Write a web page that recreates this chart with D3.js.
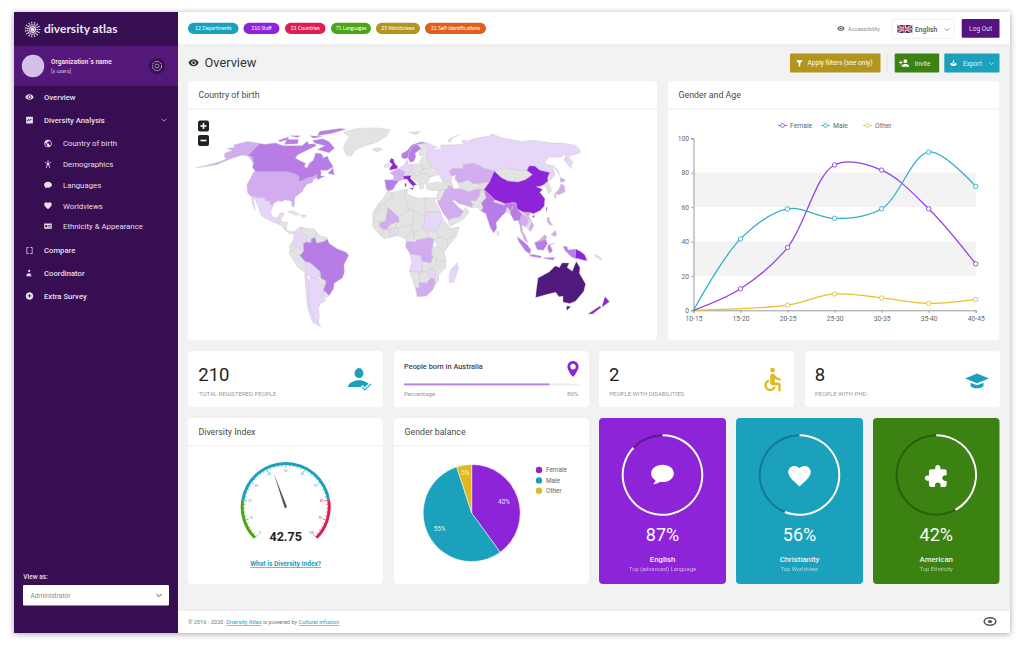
<!DOCTYPE html>
<html>
<head>
<meta charset="utf-8">
<title>Diversity Atlas</title>
<script src="https://cdn.jsdelivr.net/npm/d3@7"></script>
<style>
  html, body { margin: 0; padding: 0; background: #fff; overflow: hidden; }
  svg { display: block; }
  text { font-family: Roboto, sans-serif; }
</style>
</head>
<body>
<div id="page"></div>
<script>
//
// data
//
var ageGroups = ["10-15", "15-20", "20-25", "25-30", "30-35", "35-40", "40-45"];
var femaleByAge = [0, 12.5, 36.5, 84.5, 81.5, 59, 27];
var maleByAge = [0, 41.5, 59, 53.5, 59, 92, 72];
var otherByAge = [0, 1, 3, 9.5, 7.2, 4, 6.3];
var ageTicks = [0, 20, 40, 60, 80, 100];
var ageBands = [[20, 40], [60, 80]];

var genderLabels = ["Female", "Male", "Other"];
var genderShare = [40, 55, 5];

var chipLabels = ["12 Departments", "210 Staff", "21 Countries", "71 Languages", "25 Worldviews", "21 Self-identifications"];
var navTop = ["Overview", "Diversity Analysis"];
var navSub = ["Country of birth", "Demographics", "Languages", "Worldviews", "Ethnicity & Appearance"];
var navBottom = ["Compare", "Coordinator", "Extra Survey"];

var diversityIndex = 42.75;
var gaugeLabels = [0, 10, 20, 30, 40, 50, 60, 70, 80, 90, 100];

var topNames = ["English", "Christianity", "American"];
var topSubs = ["Top (advanced) Language", "Top Worldview", "Top Ethnicity"];
var topValues = [87, 56, 42];

// country outlines, rough, [lon, lat], one array per colour class
var mapGrey = [
  [[-62,79],[-50,83],[-25,83.5],[-10,81.5],[-12,76],[-22,70.5],[-32,68],[-40,65],[-43,60],[-48,61],[-53,66],[-54,70],[-52,75]],
  [[-24,65.5],[-18,66.4],[-14,65],[-19,63.4],[-22.5,64]],
  [[12,79],[25,80],[20,77]],
  [[-84.5,22],[-80,23],[-74.5,20.2],[-78,20]],
  [[-74,20],[-69,19.8],[-71,18]],
  [[-90,13.8],[-88.5,15.8],[-88.3,15.8],[-83.2,15],[-83.7,11],[-85.7,11],[-87.5,13]],
  [[-85.7,11],[-83.7,11],[-82.5,9.5],[-80,9.2],[-77.5,8.7],[-78,7.5],[-81,7.5],[-85,10]],
  [[-72,12],[-68,11],[-62,10.7],[-60,8.5],[-61,5],[-64,4],[-64,1.5],[-67.5,2],[-67.5,6],[-72,7.5]],
  [[-60,8.5],[-57,6],[-52,5],[-51.5,4],[-54,2.3],[-58,1.5],[-60,1.5],[-61,5]],
  [[-78.8,1.5],[-75.5,0],[-75.5,-1.5],[-78.5,-4.5],[-80.3,-3.4],[-81,-1],[-80,0.8]],
  [[-75.5,-1.5],[-75.5,0],[-73,-2.3],[-69.8,-4.2],[-73,-7],[-70.5,-9.5],[-69,-11],[-69,-16],[-70.3,-18.3],[-76,-14],[-81.3,-5],[-80.3,-3.4],[-78.5,-4.5]],
  [[-58,-20],[-58,-22],[-54.5,-24],[-54.5,-25.5],[-58,-27.3],[-60,-24],[-62.5,-22]],
  [[-57.5,-30],[-53.5,-33.7],[-55,-35],[-58.3,-34]],
  [[-5.8,35.8],[-2,35],[-1.5,32],[-8.7,27.5],[-12,26],[-12,23.4],[-17,21],[-13,27.7],[-9.7,30],[-6.8,34.5]],
  [[-2,35],[8.5,37],[9,30],[12,23.5],[3.3,19],[-1,21.5],[-5,25],[-8.7,27.5],[-1.5,32]],
  [[8.5,37],[11,37],[10,34],[15,32.3],[20,31],[25,31.6],[25,20],[24,19.5],[15,23],[12,23.5],[9,30]],
  [[25,31.6],[34,31.3],[32.5,29],[36.9,22],[25,22]],
  [[-17,21],[-12,23.4],[-12,26],[-8.7,27.5],[-5,25],[-6.5,16],[-11,15],[-16.5,16]],
  [[-16.5,16],[-11,15],[-11.5,12.5],[-8,10.5],[-8,7.5],[-11,7],[-13.3,9],[-16.8,12.5]],
  [[-8,10.5],[-5.5,10.5],[-3,9.5],[-3,5],[-7.5,4.3],[-11,7],[-8,7.5]],
  [[-5.5,10.5],[-3,13.7],[0.5,15],[2.4,11.5],[0,11],[-3,11],[-3,9.5]],
  [[0,11],[2.4,11.5],[3.7,11.5],[2.7,6.3],[1,6]],
  [[3.3,19],[12,23.5],[15,23],[15.5,17],[13.5,13.5],[3.7,11.5],[2.4,11.5],[0.5,15],[4,15.5]],
  [[2.7,6.3],[3.7,11.5],[13.5,13.5],[14.5,11],[11.5,6.5],[8.5,4.6],[5,5.5]],
  [[15,23],[24,19.5],[24,15.5],[22,11],[15.5,8],[14.5,11],[13.5,13.5],[15.5,17]],
  [[24,10],[27,9.5],[33.5,10],[35,5],[31,3.7],[27.5,5]],
  [[36,13],[38,18],[43,12],[48,8],[45,5],[41.5,4],[35,5],[33.5,10]],
  [[43,11],[51,12],[48,5],[41.5,-1.5],[41.5,4],[45,5],[48,8]],
  [[35,5],[41.5,4],[41.5,-1.5],[39,-4.6],[34,-1],[31,3.7]],
  [[15.5,8],[22,11],[24,10],[27.5,5],[19,3.5],[15,3.5]],
  [[8.5,4.6],[11.5,6.5],[14.5,11],[15.5,8],[15,3.5],[16,2],[9.8,2.3]],
  [[30,-1],[34,-1],[39,-4.6],[40.5,-10.5],[35,-11.5],[30.5,-8],[29,-6]],
  [[22,-13],[24,-11],[28.5,-12],[30.5,-8],[33,-9.5],[33,-14],[30.5,-16],[28,-16],[25.5,-18],[22,-18]],
  [[33,-14],[33,-9.5],[35,-11.5],[40.5,-10.5],[40.7,-15],[35,-20],[35.5,-24],[32.8,-26],[32,-22.5],[33,-18],[30.5,-16]],
  [[12,-17.5],[22,-18],[20,-18.5],[20,-28.5],[17,-28.7],[14.5,-23]],
  [[20,-18.5],[22,-18],[25.5,-18],[29,-22.3],[25.5,-25.5],[20,-25]],
  [[-10,52],[-6,52.2],[-6,55],[-10,54.3]],
  [[7.6,47.6],[12,48.5],[17,48.5],[16,46.8],[13.7,46.5],[7,46]],
  [[14,54],[19,54.5],[23.5,54],[24,50.5],[22.5,49],[19,49.3],[15,51]],
  [[12,48.5],[15,51],[19,49.3],[22.5,49],[22,47.5],[19,46],[16,46.8],[17,48.5]],
  [[13.7,46.5],[16,46.8],[19,46],[22,47.5],[27,48],[29.5,45],[28,41.5],[26,40.8],[23.5,40],[24,37.8],[21.5,37],[19.5,41],[15,44.5]],
  [[22.5,49],[24,50.5],[32,52.3],[40,49.6],[38,47],[33,46],[29.5,45],[27,48],[22,47.5]],
  [[23.5,54],[21,55],[24,59],[28,59.5],[32,52.3],[24,50.5]],
  [[24,65.8],[22,63],[22,60.2],[28,60.5],[31,63],[29,70],[20,69]],
  [[8.2,55],[10.5,57.5],[11,55]],
  [[53,42],[56,41.5],[62,43.5],[66,41],[70,41],[73,39.5],[67,37],[61,35.5],[54,37.5]],
  [[70,41],[80,42],[74,37],[67,37],[73,39.5]],
  [[87,49.5],[98,52],[108,50],[116,50],[119,47],[111,43.5],[104,42],[96,42.7],[91,45]],
  [[124.5,40],[130,42.7],[129.5,36],[126.5,34.5],[126,38]],
  [[74,37],[74.5,31.5],[70,28],[71,25],[69,22.5],[66.5,25.2],[61.7,25],[63,27],[61,29.7],[66,29.5],[69.5,33],[71,36.5]],
  [[26,40],[29,41.2],[36,42],[41.5,41.5],[44.5,39.5],[44.5,37.5],[42,37],[36,36.5],[30,36.3],[27,37]],
  [[40,43.5],[47.5,42],[49,40],[48,39],[44.5,39.5],[41.5,41.5]],
  [[36,36.5],[42,37],[39,32.5],[37,29.5],[35,29.5],[34.3,31.3]],
  [[42.8,16.5],[44,17.5],[52,19],[55,22.7],[56.5,25],[59.8,22.5],[55,17.5],[45,12.8],[43.3,12.8]],
  [[88.5,22],[90,25.5],[92,23],[92,21]],
  [[101,21],[102,22],[104,20],[107,16],[105,14.5],[105,18]],
  [[102.5,12],[105,14.5],[107,14],[105,10.5]],
  [[81,30.3],[89,27.5],[88,26.5],[80,28.7]],
  [[155,-6],[160,-8],[162,-10.5],[157,-8]]
];
var mapTier1 = [
  [[-117.1,32.5],[-114.8,32.5],[-111,31.3],[-106.5,31.8],[-103,29],[-101.5,29.8],[-99.5,27.5],[-97.2,25.9],[-97.8,22.5],[-96,19],[-94,18.2],[-91,18.7],[-90.5,21],[-87,21.5],[-88,18.5],[-89,17.8],[-91,17.2],[-92,14.6],[-96,15.8],[-102,18],[-105.5,20.5],[-108,25],[-112.5,30]],
  [[-115,31.5],[-110,23],[-112,25],[-116,30.5]],
  [[-92,14.6],[-91,17.2],[-89,17.8],[-88.5,15.8],[-90,13.8]],
  [[-77.5,8.7],[-75,11],[-72,12],[-72,7.5],[-67.5,6],[-67.5,2],[-70,1],[-69.8,-4.2],[-73,-2.3],[-75.5,0],[-78.8,1.5],[-77.5,4]],
  [[-69,-11],[-65,-12],[-60,-16],[-58,-18],[-58,-20],[-62.5,-22],[-66,-22],[-69,-19],[-69,-16]],
  [[-70.3,-18.3],[-69,-19],[-68,-24],[-70,-33],[-71.5,-40],[-72,-50],[-69,-52],[-68.5,-55],[-74,-52],[-74,-42],[-71.5,-30]],
  [[-66,-22],[-62.5,-22],[-60,-24],[-58,-27.3],[-54.5,-25.5],[-57.5,-30],[-58.3,-34],[-57,-37],[-62,-39],[-65,-42],[-66,-47],[-69,-52],[-72,-50],[-71.5,-40],[-70,-33],[-68,-24]],
  [[-3,11],[0,11],[1,6],[-3,5],[-3,9.5]],
  [[24,19.5],[25,20],[25,22],[36.9,22],[38,18],[36,13],[33.5,10],[27,9.5],[24,10],[22,11],[24,15.5]],
  [[12.5,-6],[21,-7],[22,-11],[24,-11],[22,-13],[22,-18],[12,-17.5],[14,-11]],
  [[25.5,-18],[28,-16],[30.5,-16],[33,-18],[32,-22.5],[29,-22.3]],
  [[49.3,-12],[50.5,-15.5],[47.5,-25],[44,-25],[43.5,-21],[44.5,-16.5]],
  [[2.5,51],[4,52],[7,53.5],[9,54.8],[14,54],[15,51],[12,48.5],[7.6,47.6],[8.2,49]],
  [[28,59.5],[30,60],[28,60.5],[31,63],[29,70],[33,69.3],[41,66.5],[34,66],[40,64.6],[44,66],[44,68.5],[54,68.5],[68,69],[67,72],[73,72],[74,68],[75,72],[81,73.5],[100,76],[104,77.7],[113,74],[130,71],[140,72.5],[160,70],[170,70],[180,68.5],[180,65],[177,62.5],[163,60],[162,56],[156,51],[155.5,57],[163,62],[155,59.5],[143,59.3],[135,54.7],[141,53],[139,47],[132,43],[131,45],[135,48.4],[127.5,50],[125,53],[120,53],[116,50],[108,50],[98,52],[87,49.5],[80,51],[71,55],[61,54],[60,51],[51,51.5],[47,49],[49,46],[47.5,42],[40,43.5],[38,47],[40,49.6],[32,52.3]],
  [[142,54],[143.5,50],[142.5,46],[142,50]],
  [[52,71],[56,74],[68,77],[58,74],[55,71]],
  [[80,9.7],[82,7.5],[80.5,6]]
];
var mapTier2 = [
  [[-124.7,48.4],[-123,49],[-95,49],[-89.5,48],[-84.5,46.5],[-82.5,45.3],[-82.5,42.5],[-79,43],[-76.5,44],[-75,45],[-71.5,45],[-69,47.3],[-67,45],[-70,43.5],[-70,41.6],[-74,40.6],[-75.5,38],[-76,35.5],[-78.5,33.8],[-81,31.8],[-80,26.8],[-80.5,25.2],[-81.8,26],[-83,29],[-85,29.7],[-89,30.2],[-90,29.1],[-94,29.5],[-97.2,27.5],[-97.2,25.9],[-99.5,27.5],[-101.5,29.8],[-103,29],[-106.5,31.8],[-111,31.3],[-114.8,32.5],[-117.1,32.5],[-120.5,34.5],[-122.5,37.5],[-124.3,40.3],[-124,46]],
  [[-141,69.6],[-141,60.3],[-135,59.5],[-130,55],[-133,56.5],[-139,59.8],[-146,60.8],[-152,59],[-157,57],[-163,54.8],[-158,58.5],[-162,59.5],[-165,62],[-161,64.5],[-168,65.6],[-162,67],[-166,68.5],[-156.5,71.3],[-148,70.4]],
  [[-156,57.5],[-178,51.6],[-162,54]],
  [[-5,25],[3.3,19],[4,15.5],[0.5,15],[-3,13.7],[-5.5,10.5],[-8,10.5],[-11.5,12.5],[-11,15],[-6.5,16]],
  [[9.8,2.3],[16,2],[18,3.5],[16,-3],[12,-5],[9,-1]],
  [[19,3.5],[27.5,5],[31,3.7],[30,-1],[29,-6],[30.5,-8],[28.5,-12],[24,-11],[22,-11],[21,-7],[12.5,-6],[12,-5],[16,-3],[18,3.5]],
  [[17,-28.7],[20,-28.5],[20,-25],[25.5,-25.5],[29,-22.3],[32,-22.5],[32.8,-26],[31,-30],[26,-34],[18.5,-34.5]],
  [[-1.5,43.4],[3,42.5],[7.5,43.8],[7,46],[7.6,47.6],[8.2,49],[2.5,51],[-1.5,49.7],[-4.8,48.4],[-1.2,46]],
  [[47,49],[51,51.5],[60,51],[61,54],[71,55],[80,51],[87,49.5],[80,42],[70,41],[66,41],[62,43.5],[56,41.5],[53,42],[51,44.5],[53,46.7],[49,46]],
  [[61,35.5],[67,37],[74,37],[71,36.5],[69.5,33],[66,29.5],[61,29.7],[61,31.5]],
  [[44.5,39.5],[48,39],[49,37.5],[54,37.5],[61,35.5],[61,31.5],[61,29.7],[63,27],[61.7,25],[57,26.5],[52,27.5],[48.5,30],[46,33],[44.5,37.5]],
  [[39,32.5],[42,37],[44.5,37.5],[46,33],[48.5,30],[47,29],[44,29.3]],
  [[35,29.5],[37,29.5],[39,32.5],[44,29.3],[47,29],[48.5,28],[51.5,25],[55,22.7],[52,19],[44,17.5],[42.8,16.5],[39,21],[35,28]],
  [[131,34],[136,37],[140,41],[142,39.5],[140.5,35.5],[135,33.7]],
  [[140,42],[142,45.3],[145,43.5],[143,42]],
  [[130,33.5],[132,33],[130.8,31]],
  [[98.5,16],[101,21],[105,18],[105,14.5],[102.5,12],[100,13.5],[100,9],[102,6],[100,6.5],[98.5,9]],
  [[102,22],[108,21.7],[106,19],[109.3,13],[106,8.8],[105,10.5],[107,14],[107,16],[104,20]],
  [[100,6.5],[102,6],[104,1.5],[101,3]],
  [[109,1.5],[113,3.5],[117,7],[119,5],[117.5,4],[115,3]],
  [[120.5,18.5],[122,18.3],[122,16],[124,13],[121,13.8],[120,16]],
  [[122,7],[125.5,9.7],[126.5,7],[125,5.7]]
];
var mapTier3 = [
  [[-141,69.6],[-135,69],[-125,70],[-115,68],[-108,68],[-96,68],[-94,71.5],[-90,69],[-85,69.5],[-81.5,68],[-87,65],[-94,61],[-94.5,58.7],[-88,56.5],[-82.5,55],[-82,52.5],[-79,51.5],[-79,55],[-76.5,57],[-78,62.4],[-73,62],[-70,60.5],[-69,58.8],[-65,60],[-62,57],[-56,52.5],[-60,50],[-66.5,50],[-65,48.5],[-64.5,46],[-61,46],[-66,43.5],[-67,45],[-69,47.3],[-71.5,45],[-75,45],[-76.5,44],[-79,43],[-82.5,42.5],[-82.5,45.3],[-84.5,46.5],[-89.5,48],[-95,49],[-123,49],[-128,52],[-130,55],[-135,59.5],[-141,60.3]],
  [[-80,73.5],[-72,71.5],[-67,69],[-62,66],[-65,62.5],[-72,63.8],[-78,65],[-73,68],[-85,70],[-89,72]],
  [[-117,73],[-105,73],[-102,69.5],[-115,69]],
  [[-90,80],[-70,83],[-62,82],[-75,78],[-88,76]],
  [[-125,72],[-118,75],[-116,73],[-122,71]],
  [[-96,76],[-82,75.5],[-90,74]],
  [[-118,76],[-106,76],[-108,74.5]],
  [[-59,47.8],[-56,51.5],[-53,47]],
  [[-51.5,4],[-50,1],[-44,-2.5],[-37,-4.8],[-35,-7],[-39,-13],[-39,-18],[-41,-22],[-48,-25.5],[-49,-29],[-53.5,-33.7],[-57.5,-30],[-54.5,-25.5],[-54.5,-24],[-58,-22],[-58,-18],[-60,-16],[-65,-12],[-69,-11],[-70.5,-9.5],[-73,-7],[-69.8,-4.2],[-70,1],[-67.5,2],[-64,1.5],[-64,4],[-61,5],[-60,1.5],[-58,1.5],[-54,2.3]],
  [[-9,43.5],[-1.5,43.4],[3,42.5],[0,39.5],[-0.5,38],[-2,36.8],[-5.5,36],[-7,37.2]],
  [[5,59],[8,58],[11,59],[12,63],[15,66.5],[20,69],[29,70],[31,69.7],[25,71],[15,68.5],[10,64],[5,62]],
  [[11,59],[13,55.5],[16.5,56.5],[18.5,60],[17.5,62],[24,65.8],[20,69],[15,66.5],[12,63]],
  [[74,37],[78.5,33],[81,30.3],[80,28.7],[88,26.5],[89,27.5],[96,28.5],[94,24],[92,23],[90,25.5],[88.5,22],[85,19.5],[80,15],[80,11],[77.5,8],[75,12],[73,19],[72.5,21],[69,22.5],[71,25],[70,28],[74.5,31.5]],
  [[92,23],[94,24],[96,28.5],[98,28],[98,24],[101,21],[98.5,16],[99,11],[97.5,16.5],[94.3,16],[92,20.5]],
  [[109,1.5],[115,3],[117.5,4],[119,1],[116,-3.5],[111,-3],[110,-1]],
  [[95.5,5.5],[98,4],[103.5,0],[106,-3],[105.7,-6],[102,-4],[97,2]],
  [[105.5,-6.5],[108.5,-6.4],[114.5,-7.5],[114,-8.7],[106,-7.5]],
  [[119.5,0],[125,1.5],[121,0],[123,-4],[120.5,-5.5],[119,-2]],
  [[116,-8.5],[125,-8.3],[124,-10],[117,-9]],
  [[131,-1],[134,-0.8],[135,-3.3],[141,-2.6],[141,-9],[138,-8],[133,-4]]
];
var mapTier4 = [
  [[-5.5,50],[1.5,51.2],[1.7,52.8],[-0.2,54],[-2,56],[-2,57.6],[-5,58.6],[-6,56],[-3,54],[-5,52]],
  [[7,46],[7.5,43.8],[10,44],[12.5,41.6],[16,38.5],[16,40],[18.5,40],[13,44.5],[13.7,46.5]],
  [[12.5,38],[15.5,38.2],[15,36.7]],
  [[8.3,41],[9.7,41],[9.5,39],[8.5,39]],
  [[80,42],[87,49.5],[91,45],[96,42.7],[104,42],[111,43.5],[119,47],[116,50],[120,53],[125,53],[127.5,50],[135,48.4],[131,45],[130,42.7],[124.5,40],[121,39],[118,39],[122.5,37],[119.5,35],[122,31],[120,26],[116,23],[110,20.8],[108,21.7],[102,22],[98,24],[98,28],[96,28.5],[89,27.5],[81,30.3],[78.5,33],[74,37]],
  [[108.7,19],[111,20],[110,18.3]],
  [[121,25],[122,25],[120.8,22]],
  [[141,-2.6],[145,-4.5],[148,-6.5],[150.5,-10.5],[147,-10],[143,-9],[141,-9]],
  [[172.7,-34.5],[178.5,-37.7],[175,-41.5],[174,-39.5]],
  [[172.5,-40.6],[174.3,-41.7],[170.5,-46],[166.5,-46],[171,-42]]
];
var mapTier5 = [
  [[114,-22],[122,-18],[126,-14],[129.5,-15],[131,-12],[136.5,-12],[135.5,-15],[140,-17.5],[142,-11],[145.5,-15],[146,-19],[153,-26],[153.5,-31],[150,-37.5],[146,-39],[140,-38],[138,-34],[135,-34.5],[131,-31.5],[124,-33],[116,-35],[115,-31]],
  [[144.7,-40.7],[148.3,-41],[146.8,-43.6],[145.5,-42.5]]
];

//
// setup
//
var purple = "#8e24d8", teal = "#1ba1bc", green = "#3c8213", gold = "#b2951f", yellow = "#e0b91e", red = "#dc1f50";
var darkSide = "#380e52", midSide = "#54187a";

var svg = d3.select("#page").append("svg").attr("width", 1024).attr("height", 645);
var defs = svg.append("defs");
var shadow = defs.append("filter").attr("id", "frame").attr("x", "-5%").attr("y", "-5%").attr("width", "110%").attr("height", "110%");
shadow.append("feDropShadow").attr("dx", 0).attr("dy", 1).attr("stdDeviation", 3).attr("flood-opacity", 0.35);
var cardShadow = defs.append("filter").attr("id", "soft").attr("x", "-5%").attr("y", "-5%").attr("width", "110%").attr("height", "110%");
cardShadow.append("feDropShadow").attr("dx", 0).attr("dy", 0).attr("stdDeviation", 0.7).attr("flood-opacity", 0.13);

function box(x, y, w, h, fill, r, parent) {
  return (parent || svg).append("rect").attr("x", x).attr("y", y).attr("width", w).attr("height", h)
    .attr("rx", r || 0).attr("fill", fill);
}
function label(x, y, s, size, fill, weight, anchor, family) {
  return svg.append("text").attr("x", x).attr("y", y).text(s)
    .attr("font-size", size).attr("fill", fill)
    .attr("font-weight", weight || 400).attr("text-anchor", anchor || "start")
    .style("font-family", family || "Roboto, sans-serif");
}
function card(x, y, w, h) {
  return box(x, y, w, h, "#fff", 4).attr("filter", "url(#soft)");
}
function cardHeader(x, w, y, title) {
  label(x + 10.5, y - 10.8, title, 8.8, "#4a4a4a", 400);
  svg.append("line").attr("x1", x).attr("x2", x + w).attr("y1", y).attr("y2", y).attr("stroke", "#ececec").attr("stroke-width", 1);
}
// material style glyph, 24 unit box, centred on x,y
function icon(d, x, y, size, fill, mirror) {
  var k = size / 24;
  var t = mirror
    ? "translate(" + (x + size / 2) + "," + (y - size / 2) + ") scale(" + (-k) + "," + k + ")"
    : "translate(" + (x - size / 2) + "," + (y - size / 2) + ") scale(" + k + ")";
  return svg.append("path").attr("d", d).attr("fill", fill).attr("transform", t);
}
function chevron(x, y, w, color, sw) {
  svg.append("path").attr("d", d3.line()([[x - w, y - w / 2], [x, y + w / 2], [x + w, y - w / 2]]))
    .attr("fill", "none").attr("stroke", color).attr("stroke-width", sw || 1);
}

var EYE = "M12 4.5C7 4.5 2.73 7.61 1 12c1.73 4.39 6 7.5 11 7.5s9.27-3.11 11-7.5c-1.73-4.39-6-7.5-11-7.5zM12 17c-2.76 0-5-2.24-5-5s2.24-5 5-5 5 2.24 5 5-2.24 5-5 5zm0-8c-1.66 0-3 1.34-3 3s1.34 3 3 3 3-1.34 3-3-1.34-3-3-3z";
var HEART = "M12 21.35l-1.45-1.32C5.4 15.36 2 12.28 2 8.5 2 5.42 4.42 3 7.5 3c1.74 0 3.41.81 4.5 2.09C13.09 3.81 14.76 3 16.5 3 19.58 3 22 5.42 22 8.5c0 3.78-3.4 6.86-8.55 11.54L12 21.35z";
var PUZZLE = "M20.5 11H19V7c0-1.1-.9-2-2-2h-4V3.5C13 2.12 11.88 1 10.5 1S8 2.12 8 3.5V5H4c-1.1 0-1.99.9-1.99 2v3.8H3.5c1.49 0 2.7 1.21 2.7 2.7s-1.21 2.7-2.7 2.7H2V20c0 1.1.9 2 2 2h3.8v-1.5c0-1.49 1.21-2.7 2.7-2.7 1.49 0 2.7 1.21 2.7 2.7V22H17c1.1 0 2-.9 2-2v-4h1.5c1.38 0 2.5-1.12 2.5-2.5S21.88 11 20.5 11z";
var WHEEL = "M12 2a2 2 0 1 0 0 4 2 2 0 0 0 0-4zM19 13v-2c-1.54.02-3.09-.75-4.07-1.83l-1.29-1.43c-.17-.19-.38-.34-.61-.45-.01 0-.01-.01-.02-.01H13c-.35-.2-.75-.3-1.19-.26C10.76 7.11 10 8.04 10 9.09V15c0 1.1.9 2 2 2h5v5h2v-5.5c0-1.1-.9-2-2-2h-3v-3.45c1.29 1.07 3.25 1.94 5 1.95zm-6.17 5c-.41 1.16-1.52 2-2.83 2-1.66 0-3-1.34-3-3 0-1.31.84-2.41 2-2.83V12.1c-2.28.46-4 2.48-4 4.9 0 2.76 2.24 5 5 5 2.42 0 4.44-1.72 4.9-4h-2.07z";
var CAP = "M12 6L1 10.500 12 15l11-4.500zM6 14.500v3.200c2 1.500 4 2 6 2s4-.5 6-2v-3.200l-6 2.400z";
var PIN = "M12 2C8.13 2 5 5.13 5 9c0 5.25 7 13 7 13s7-7.75 7-13c0-3.87-3.13-7-7-7zm0 10.500c-1.930 0-3.500-1.570-3.500-3.500s1.570-3.500 3.500-3.500 3.500 1.570 3.500 3.500-1.570 3.500-3.500 3.500z";
var PERSON = "M12 12c2.21 0 4-1.79 4-4s-1.790-5-4-5-4 2.790-4 5 1.790 4 4 4zm0 2c-2.670 0-9 1.340-10 6h20c-1-4.660-7.330-6-10-6z";
var PERSON_ADD = "M15 12c2.21 0 4-1.79 4-4s-1.79-4-4-4-4 1.79-4 4 1.79 4 4 4zm-9-2V7H4v3H1v2h3v3h2v-3h3v-2H6zm9 4c-2.67 0-8 1.34-8 4v2h16v-2c0-2.66-5.33-4-8-4z";
var CHECK = "M9 16.17L4.83 12l-1.41 1.41L9 19 21 7l-1.41-1.41z";
var GLOBE = "M12 2C6.48 2 2 6.48 2 12s4.48 10 10 10 10-4.48 10-10S17.52 2 12 2zm-1 17.93c-3.95-.49-7-3.85-7-7.93 0-.62.08-1.21.21-1.79L9 15v1c0 1.1.9 2 2 2v1.93zm6.9-2.54c-.26-.81-1-1.39-1.9-1.39h-1v-3c0-.55-.45-1-1-1H8v-2h2c.55 0 1-.45 1-1V7h2c1.1 0 2-.9 2-2v-.41c2.93 1.19 5 4.06 5 7.41 0 2.08-.8 3.97-2.1 5.39z";
var PLUS_CIRCLE = "M12 2C6.48 2 2 6.48 2 12s4.48 10 10 10 10-4.48 10-10S17.52 2 12 2zm5 11h-4v4h-2v-4H7v-2h4V7h2v4h4v2z";
var FILTER = "M3 4h18l-7 8.5V20l-4 1v-8.5z";
var CHAT = "M12 3C6 3 1.5 6.6 1.5 11c0 2.6 1.6 4.9 4 6.4-.3 1.5-1.2 2.8-2.4 3.6 2.4.1 4.8-.7 6.6-2.2.8.1 1.5.2 2.3.2 6 0 10.5-3.6 10.5-8S18 3 12 3z";
var ID_CARD = "M2 5h20v14H2zM5 9v6h5V9zM13 9v1.6h6V9zM13 13v1.6h6V13z";
var CHART_BOX = "M3 3h18v18H3zM5.5 16l4-4 3 2.5 5-5.5-1.5-1-3.6 4-3-2.5-5 5z";
var DEMO = "M12 2a2 2 0 1 1 0 4 2 2 0 0 1 0-4zM4 6.5l6 1.5h4l6-1.5.5 1.8-5.5 1.7v4l3 7.5-1.9.6L13 15h-2l-3.1 7.5-1.9-.6 3-7.5v-4L3.5 8.3z";
var COORD = "M11 3a3 3 0 1 1 0 6 3 3 0 0 1 0-6zM4 20v-3c0-3 4-5 7-5 2 0 4 .8 5.500 2L14 17l6 3z";
var BRACKET = "M4 3h6v2H6v14h4v2H4zM14 3h6v18h-6v-2h4V5h-4z";
var EXPORT = "M11 3h2v6h3l-4 4-4-4h3zM3 14c1.500-1.500 3-2 5-2l4 4 4-4c2 0 3.500.5 5 2-1 4-5 6-9 6s-8-2-9-6z";

//
// frame
//
svg.append("rect").attr("x", 14).attr("y", 12).attr("width", 996).attr("height", 621).attr("fill", "#f2f2f2").attr("filter", "url(#frame)");
box(178, 12, 832, 33, "#fff");
box(178, 610, 832, 23, "#fff");
svg.append("line").attr("x1", 178).attr("x2", 1010).attr("y1", 45).attr("y2", 45).attr("stroke", "#e6e6e6");
svg.append("line").attr("x1", 178).attr("x2", 1010).attr("y1", 610).attr("y2", 610).attr("stroke", "#e6e6e6");

//
// sidebar
//
box(14, 12, 164, 621, darkSide);
box(14, 46, 164, 40, midSide);

// logo, a round tree of white strokes
var logoAngles = d3.range(0, 360, 24);
svg.append("g").selectAll("line").data(logoAngles).enter().append("line")
  .attr("x1", 32.5).attr("y1", 29.5)
  .attr("x2", function(a) { return 32.5 + 7.8 * Math.cos(a * Math.PI / 180); })
  .attr("y2", function(a) { return 29.5 + 7.8 * Math.sin(a * Math.PI / 180); })
  .attr("stroke", "#e9e4ee").attr("stroke-width", 1.2).attr("stroke-dasharray", "1.6 0.5");
label(44, 33.2, "diversity atlas", 12, "#ece7f1", 700, "start", "Lato, sans-serif");

svg.append("circle").attr("cx", 33).attr("cy", 66).attr("r", 11.2).attr("fill", "#d3c1ea");
label(51, 64, "Organization\u00b4s name", 6.5, "#e8dff0", 700);
label(51, 72.5, "[x users]", 5.4, "#cdbcdc", 400);
svg.append("circle").attr("cx", 157).attr("cy", 66).attr("r", 8).attr("fill", darkSide);
svg.append("circle").attr("cx", 157).attr("cy", 66).attr("r", 4.6).attr("fill", "none").attr("stroke", "#cfc3d8").attr("stroke-width", 0.9).attr("stroke-dasharray", "2 0.7");
svg.append("circle").attr("cx", 157).attr("cy", 66).attr("r", 2).attr("fill", "none").attr("stroke", "#cfc3d8").attr("stroke-width", 0.7);

var navColor = "#e6dfec";
label(44, 99.7, navTop[0], 7.7, navColor, 500);
icon(EYE, 29.5, 97, 9, navColor);
label(44, 122.7, navTop[1], 7.7, navColor, 500);
icon(CHART_BOX, 29.5, 120, 9, navColor);
chevron(164, 120, 2.5, "#cfc3d8", 0.8);

var subY = [146.3, 167, 187.8, 208.5, 229];
var subIcons = [GLOBE, DEMO, CHAT, HEART, ID_CARD];
navSub.forEach(function(s, i) {
  label(63, subY[i], s, 7.8, navColor, 400);
  icon(subIcons[i], 48, subY[i] - 2.8, 9, navColor);
});
var bottomY = [253.3, 276, 298.7];
var bottomIcons = [BRACKET, COORD, PLUS_CIRCLE];
navBottom.forEach(function(s, i) {
  label(44, bottomY[i], s, 7.7, navColor, 500);
  icon(bottomIcons[i], 29.5, bottomY[i] - 2.8, 9, navColor);
});

label(23.3, 578.5, "View as:", 6.6, "#e6dfec", 500);
box(23, 585, 146, 20.5, "#fff", 1);
label(30.5, 597.7, "Administrator", 6.6, "#8a8a8a", 400);
chevron(159, 595.3, 2.6, "#444", 1);

//
// top bar
//
var chipX = [188, 243.5, 285, 331, 376, 425];
var chipW = [50.5, 36, 40.5, 40, 44, 61];
var chipColors = [teal, purple, red, "#4aa517", gold, "#df5f1e"];
chipLabels.forEach(function(s, i) {
  box(chipX[i], 22.8, chipW[i], 11.2, chipColors[i], 5.6);
  label(chipX[i] + chipW[i] / 2, 30.2, s, 5.1, "#fff", 400, "middle", "Lato, sans-serif");
});

icon(EYE, 841, 28.5, 8, "#666");
label(848, 30.7, "Accessibility", 5.7, "#8c8c8c", 400);
box(892, 19.5, 62, 19, "#fff", 1).attr("stroke", "#eaeaea").attr("stroke-width", 0.7);
// flag
box(897.3, 25, 15, 8, "#243a78");
[[897.3, 25, 912.3, 33], [897.3, 33, 912.3, 25]].forEach(function(p) {
  svg.append("line").attr("x1", p[0]).attr("y1", p[1]).attr("x2", p[2]).attr("y2", p[3]).attr("stroke", "#fff").attr("stroke-width", 1.3);
  svg.append("line").attr("x1", p[0]).attr("y1", p[1]).attr("x2", p[2]).attr("y2", p[3]).attr("stroke", "#c8263e").attr("stroke-width", 0.5);
});
box(903.6, 25, 2.4, 8, "#fff"); box(897.3, 27.8, 15, 2.4, "#fff");
box(904.2, 25, 1.2, 8, "#c8263e"); box(897.3, 28.4, 15, 1.2, "#c8263e");
label(915, 31.6, "English", 6.8, "#555", 500);
chevron(947, 29.5, 2.2, "#777", 0.8);
box(961.7, 19, 37.8, 18.7, "#54137f", 1);
label(980.6, 30.8, "Log Out", 6.6, "#e4d9ee", 400, "middle");

//
// page title and buttons
//
icon(EYE, 193.6, 62.7, 11, "#333");
label(204.5, 66.7, "Overview", 12.8, "#333", 400);

box(790, 53.5, 90.5, 19, gold, 1);
icon(FILTER, 799.5, 63.3, 9, "#fff");
label(807.5, 65.4, "Apply filters (see only)", 6.6, "#fff", 400);
svg.append("line").attr("x1", 887).attr("x2", 887).attr("y1", 53).attr("y2", 72).attr("stroke", "#e5e5e5");
box(894.7, 53.5, 44.5, 19, green, 1);
icon(PERSON_ADD, 904, 63, 11, "#fff");
label(914.7, 65.6, "Invite", 6.5, "#e8f2e0", 400);
box(944.3, 53.5, 55.2, 19, teal, 1);
icon(EXPORT, 953.5, 63, 9, "#fff");
label(963, 65.6, "Export", 6.5, "#e2f3f7", 400);
chevron(991.5, 63.5, 2.2, "#e2f3f7", 0.7);

//
// country of birth map
//
card(188, 81, 469, 259);
cardHeader(188, 469, 109, "Country of birth");

// natural earth raw so nothing wraps at the antimeridian
var mapX = d3.scaleLinear().domain([0, 1]).range([408, 493]);
var mapY = d3.scaleLinear().domain([0, 1]).range([245, 160]);
function project(p) {
  var r = d3.geoNaturalEarth1Raw((p[0] - 11) * Math.PI / 180, p[1] * Math.PI / 180);
  return [mapX(r[0]), mapY(r[1])];
}
var ringPath = d3.line()
  .x(function(p) { return project(p)[0]; })
  .y(function(p) { return project(p)[1]; })
  .curve(d3.curveLinearClosed);

var mapClasses = [
  { rings: mapGrey, color: "#e3e3e3" },
  { rings: mapTier1, color: "#e6d6f7" },
  { rings: mapTier2, color: "#d2acef" },
  { rings: mapTier3, color: "#b87ce6" },
  { rings: mapTier4, color: purple },
  { rings: mapTier5, color: "#52197f" }
];
var mapG = svg.append("g");
mapClasses.forEach(function(c) {
  mapG.append("g").selectAll("path").data(c.rings).enter().append("path")
    .attr("d", ringPath)
    .attr("fill", c.color)
    .attr("stroke", "#c4c0c8").attr("stroke-width", 0.35);
});

box(198, 120.5, 11, 11, "#222", 2);
box(198, 135, 11, 11, "#222", 2);
box(200.5, 125.2, 6, 1.6, "#fff"); box(202.7, 123, 1.6, 6, "#fff");
box(200.5, 139.7, 6, 1.6, "#fff");

//
// gender and age
//
card(668, 81, 331.5, 259);
cardHeader(668, 331.5, 109, "Gender and Age");

var x = d3.scalePoint().domain(ageGroups).range([693.5, 975.7]);
var y = d3.scaleLinear().domain([0, 100]).range([310.3, 138.3]);

svg.append("g").selectAll("rect").data(ageBands).enter().append("rect")
  .attr("x", 693.5).attr("width", 282.2)
  .attr("y", function(d) { return y(d[1]); })
  .attr("height", function(d) { return y(d[0]) - y(d[1]); })
  .attr("fill", "#f3f3f3");

var yAxis = svg.append("g").attr("transform", "translate(693.5,0)")
  .call(d3.axisLeft(y).tickValues(ageTicks).tickSize(2.5).tickPadding(2));
var xAxis = svg.append("g").attr("transform", "translate(0,310.3)")
  .call(d3.axisBottom(x).tickSize(2.5).tickPadding(3.5));
[yAxis, xAxis].forEach(function(a) {
  a.selectAll("text").attr("font-size", 6.7).attr("fill", "#666").style("font-family", "Roboto, sans-serif");
  a.selectAll("line").attr("stroke", "#888").attr("stroke-width", 0.7);
});
yAxis.select(".domain").attr("stroke", "#999").attr("stroke-width", 1);
xAxis.select(".domain").attr("stroke", "#999").attr("stroke-width", 1);

var ageLine = d3.line()
  .x(function(d, i) { return x(ageGroups[i]); })
  .y(function(d) { return y(d); })
  .curve(d3.curveCatmullRom.alpha(0.5));

var ageSeries = [
  { name: genderLabels[2], values: otherByAge, color: "#e6c02f", legendX: 863, noMarker: [0, 1] },
  { name: genderLabels[0], values: femaleByAge, color: "#9a3de4", legendX: 778, noMarker: [0] },
  { name: genderLabels[1], values: maleByAge, color: "#2bb0c6", legendX: 821, noMarker: [0] }
];
ageSeries.forEach(function(s) {
  svg.append("path").attr("d", ageLine(s.values)).attr("fill", "none").attr("stroke", s.color).attr("stroke-width", 1.25);
  svg.append("g").selectAll("circle")
    .data(s.values.map(function(v, i) { return { v: v, i: i }; }).filter(function(d) { return s.noMarker.indexOf(d.i) < 0; }))
    .enter().append("circle")
    .attr("cx", function(d) { return x(ageGroups[d.i]); })
    .attr("cy", function(d) { return y(d.v); })
    .attr("r", 2.2).attr("fill", "#fff").attr("stroke", s.color).attr("stroke-width", 0.9);
  // legend
  svg.append("line").attr("x1", s.legendX).attr("x2", s.legendX + 9).attr("y1", 125.5).attr("y2", 125.5).attr("stroke", s.color).attr("stroke-width", 0.8);
  svg.append("circle").attr("cx", s.legendX + 4.5).attr("cy", 125.5).attr("r", 1.9).attr("fill", "#fff").attr("stroke", s.color).attr("stroke-width", 0.8);
  label(s.legendX + 12, 128, s.name, 6.8, "#666", 400);
});

//
// stat cards
//
var statX = [188, 394, 599, 805];
statX.forEach(function(sx) { card(sx, 351, 195, 56.5); });

label(198.3, 381, "210", 18.5, "#222", 400);
label(199, 396.2, "TOTAL REGISTERED PEOPLE", 6, "#999", 400);
icon(PERSON, 359, 378, 27, teal);
icon(CHECK, 366.5, 387, 13, "#fff").attr("stroke", "#fff").attr("stroke-width", 5);
icon(CHECK, 366.5, 387, 13, teal);

label(404, 369, "People born in Australia", 7.4, "#444", 500);
icon(PIN, 573, 369, 19, purple);
box(404, 383.5, 174.5, 1.8, "#ececec");
box(404, 383.5, 145.5, 1.8, "#b87ce6");
label(404, 395.5, "Percentage", 6.2, "#999", 400);
label(578.5, 395.5, "80%", 6.2, "#999", 400, "end");

label(609, 381, "2", 18.5, "#222", 400);
label(609.3, 396.2, "PEOPLE WITH DISABILITIES", 6, "#999", 400);
icon(WHEEL, 772.5, 379.5, 28, yellow);

label(814.7, 381, "8", 18.5, "#222", 400);
label(815, 396.2, "PEOPLE WITH PHD", 6, "#999", 400);
icon(CAP, 977, 380, 26, teal);

//
// diversity index gauge
//
card(188, 418, 195, 166);
cardHeader(188, 195, 446, "Diversity Index");

var gx = 285.7, gy = 507;
var gaugeAngle = d3.scaleLinear().domain([0, 100]).range([-135, 135]);
var gaugeG = svg.append("g").attr("transform", "translate(" + gx + "," + gy + ")");
var gaugeArc = d3.arc().innerRadius(42).outerRadius(45);
var gaugeBands = [
  { from: 0, to: 20, color: "#4aa517" },
  { from: 20, to: 80, color: teal },
  { from: 80, to: 100, color: red }
];
function gaugeColor(v) { return v < 20 ? "#4aa517" : v < 80 ? teal : red; }
gaugeG.selectAll("path.band").data(gaugeBands).enter().append("path")
  .attr("class", "band")
  .attr("fill", function(d) { return d.color; })
  .attr("d", function(d) {
    return gaugeArc({ startAngle: gaugeAngle(d.from) * Math.PI / 180, endAngle: gaugeAngle(d.to) * Math.PI / 180 });
  });
gaugeG.selectAll("line.minor").data(d3.range(0, 101, 2)).enter().append("line")
  .attr("class", "minor")
  .attr("y1", -42)
  .attr("y2", function(d) { return d % 10 === 0 ? -39 : -40.5; })
  .attr("transform", function(d) { return "rotate(" + gaugeAngle(d) + ")"; })
  .attr("stroke", function(d) { return gaugeColor(d); })
  .attr("stroke-width", 0.6);
gaugeG.selectAll("text.tick").data(gaugeLabels).enter().append("text")
  .attr("class", "tick")
  .attr("x", function(d) { return 36.5 * Math.sin(gaugeAngle(d) * Math.PI / 180); })
  .attr("y", function(d) { return -36.5 * Math.cos(gaugeAngle(d) * Math.PI / 180) + 1; })
  .attr("text-anchor", "middle")
  .attr("font-size", 2.9)
  .attr("fill", function(d) { return gaugeColor(d); })
  .text(function(d) { return d; });
gaugeG.append("path")
  .attr("d", d3.line()([[-1.3, 0], [0, -35.5], [1.3, 0], [0, 1.3]]))
  .attr("fill", "#555")
  .attr("transform", "rotate(" + gaugeAngle(diversityIndex) + ")");
label(gx, 541, diversityIndex.toFixed(2), 12.5, "#222", 700, "middle");
label(gx, 566.2, "What is Diversity Index?", 6.6, teal, 700, "middle").attr("text-decoration", "underline");

//
// gender balance pie
//
card(394, 418, 195, 166);
cardHeader(394, 195, 446, "Gender balance");

var pieColors = [purple, teal, yellow];
var pieColor = d3.scaleOrdinal().domain(genderLabels).range(pieColors);
var pieData = d3.pie().sort(null).value(function(d) { return d; })(genderShare);
var pieArc = d3.arc().innerRadius(0).outerRadius(48.5);
var labelArc = [34, 36, 41];
var pieG = svg.append("g").attr("transform", "translate(471.7,513)");
pieG.selectAll("path").data(pieData).enter().append("path")
  .attr("d", pieArc)
  .attr("fill", function(d, i) { return pieColor(genderLabels[i]); })
  .attr("stroke", "#fff").attr("stroke-width", 0.5);
pieG.selectAll("text").data(pieData).enter().append("text")
  .attr("transform", function(d, i) {
    var c = d3.arc().innerRadius(labelArc[i]).outerRadius(labelArc[i]).centroid(d);
    return "translate(" + c[0] + "," + (c[1] + 2) + ")";
  })
  .attr("text-anchor", "middle").attr("font-size", 6.4).attr("fill", "#fff").attr("fill-opacity", 0.85)
  .text(function(d) { return d.value + "%"; });
genderLabels.forEach(function(s, i) {
  svg.append("circle").attr("cx", 539).attr("cy", 470 + i * 10.4).attr("r", 3.2).attr("fill", pieColor(s));
  label(546, 472.2 + i * 10.4, s, 6.4, "#666", 400);
});

//
// top language, worldview, ethnicity
//
var topX = [599, 736, 873];
var topW = [127, 127, 126.5];
var topColors = [purple, teal, green];
var topTracks = ["#5c1a8f", "#147a8f", "#2a5f0d"];
var topIcons = [CHAT, HEART, PUZZLE];
var topIconY = [474.5, 476, 476.5];
var topIconSize = [26, 27, 25];
var ringArc = d3.arc().innerRadius(38.8).outerRadius(40.8);
topNames.forEach(function(s, i) {
  box(topX[i], 418, topW[i], 166, topColors[i], 4);
  var cx = topX[i] + topW[i] / 2;
  var g = svg.append("g").attr("transform", "translate(" + cx + ",475)");
  g.append("path").attr("d", ringArc({ startAngle: 0, endAngle: 2 * Math.PI })).attr("fill", topTracks[i]);
  g.append("path").attr("d", ringArc({ startAngle: 0, endAngle: topValues[i] / 100 * 2 * Math.PI })).attr("fill", "#fff");
  icon(topIcons[i], cx, topIconY[i], topIconSize[i], "#fff", i === 2);
  label(cx, 540.5, topValues[i] + "%", 18, "#fff", 400, "middle");
  label(cx, 561.5, s, 7.8, "#f0f0f0", 500, "middle");
  label(cx, 571, topSubs[i], 5.8, "#fff", 400, "middle").attr("opacity", 0.6);
});

//
// footer
//
var foot = label(188, 624, "", 5.6, "#777", 400);
foot.append("tspan").text("\u00a9 2016 - 2020. ");
foot.append("tspan").text("Diversity Atlas").attr("fill", teal).attr("text-decoration", "underline");
foot.append("tspan").text(" is powered by ");
foot.append("tspan").text("Cultural Infusion").attr("fill", teal).attr("text-decoration", "underline");
svg.append("ellipse").attr("cx", 990).attr("cy", 621.5).attr("rx", 5.8).attr("ry", 3.8).attr("fill", "none").attr("stroke", "#555").attr("stroke-width", 1.6);
svg.append("ellipse").attr("cx", 990).attr("cy", 621.5).attr("rx", 2.2).attr("ry", 1.5).attr("fill", "#555");
</script>
</body>
</html>
